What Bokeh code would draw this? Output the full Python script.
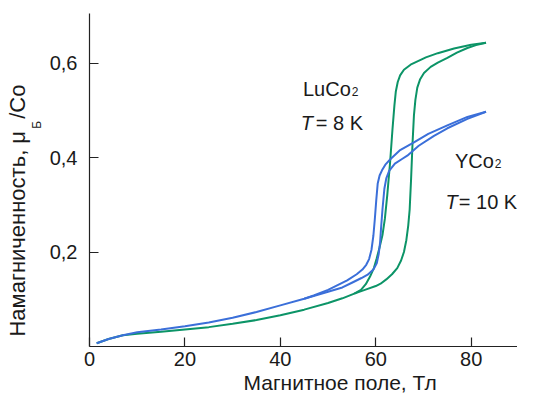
import math
from bokeh.plotting import figure
from bokeh.models import Label, FixedTicker, Range1d, Title
from bokeh.embed import file_html
from bokeh.resources import INLINE

# LuCo2, T = 8 K : increasing-field branch
lu_up_x = [1.5, 4, 7, 10, 15, 20, 25, 30, 35, 40, 45, 50, 53, 55.5, 58, 60, 61, 62.2, 63.4,
           64.5, 65.3, 65.9, 66.4, 66.8, 67.1, 67.4, 67.7, 68.0, 68.3, 68.7, 69.3, 70.1, 71.5,
           73, 75, 77, 79.2, 81, 83.1]
lu_up_y = [0.007, 0.016, 0.024, 0.027, 0.031, 0.036, 0.041, 0.048, 0.056, 0.066, 0.078, 0.092,
           0.102, 0.112, 0.121, 0.128, 0.133, 0.142, 0.153, 0.166, 0.182, 0.200, 0.225, 0.256,
           0.290, 0.355, 0.430, 0.490, 0.522, 0.548, 0.566, 0.579, 0.592, 0.601, 0.611, 0.622,
           0.632, 0.638, 0.643]
# LuCo2 : decreasing-field branch
lu_dn_x = [83.1, 80, 76.4, 73, 70.5, 69.4, 67.5, 65.9, 65.1, 64.6, 64.2, 63.9, 63.5, 63.0,
           62.4, 61.9, 61.4, 60.8, 60.2, 59.6, 58.8, 57.9, 56.9, 55.5]
lu_dn_y = [0.643, 0.639, 0.631, 0.621, 0.612, 0.607, 0.598, 0.586, 0.574, 0.560, 0.540, 0.510,
           0.460, 0.390, 0.320, 0.270, 0.236, 0.210, 0.187, 0.166, 0.148, 0.132, 0.120, 0.112]

# YCo2, T = 10 K : increasing-field branch
y_up_x = [1.5, 4, 7, 10, 15, 20, 25, 30, 35, 40, 45, 50, 53, 55, 57, 58.3, 59.5, 60.2, 60.6,
          60.9, 61.1, 61.4, 61.8, 62.2, 62.8, 64, 65.5, 66.6, 69, 72.2, 75, 79.2, 83.1]
y_up_y = [0.007, 0.016, 0.024, 0.030, 0.036, 0.043, 0.051, 0.061, 0.073, 0.087, 0.101, 0.116,
          0.125, 0.135, 0.145, 0.152, 0.163, 0.176, 0.195, 0.220, 0.250, 0.290, 0.334, 0.356,
          0.372, 0.387, 0.397, 0.404, 0.425, 0.446, 0.462, 0.482, 0.497]
# YCo2 : decreasing-field branch
y_dn_x = [83.1, 79.2, 75, 71, 68, 65, 63.1, 62, 61.3, 60.8, 60.4, 60.1, 59.8, 59.5, 59.1,
          58.6, 58.0, 57.2, 56, 54, 52, 50, 47, 45]
y_dn_y = [0.497, 0.486, 0.468, 0.450, 0.432, 0.415, 0.397, 0.385, 0.373, 0.362, 0.345, 0.310,
          0.270, 0.235, 0.205, 0.185, 0.173, 0.163, 0.153, 0.140, 0.130, 0.120, 0.108, 0.101]

x_ticks = [0, 20, 40, 60, 80]
y_ticks = [0.2, 0.4, 0.6]
y_tick_labels = {0.2: "0,2", 0.4: "0,4", 0.6: "0,6"}

GREEN = "#0c9467"
BLUE = "#3b6fd9"
FONT = "Liberation Sans"
TXT = "#1a1a1a"
NB = "\u00a0"

p = figure(width=517, height=393, output_backend="svg", toolbar_location=None,
           x_range=Range1d(0, 89.7), y_range=Range1d(0, 0.705),
           min_border_left=89, min_border_right=0, min_border_top=13, min_border_bottom=40)
p.outline_line_color = None
p.grid.visible = False
p.background_fill_color = "white"
p.border_fill_color = "white"

p.line(lu_up_x, lu_up_y, line_color=GREEN, line_width=2)
p.line(lu_dn_x, lu_dn_y, line_color=GREEN, line_width=2)
p.line(y_up_x, y_up_y, line_color=BLUE, line_width=2)
p.line(y_dn_x, y_dn_y, line_color=BLUE, line_width=2)

for ax in (p.xaxis[0], p.yaxis[0]):
    ax.major_tick_in = 9
    ax.major_tick_out = 0
    ax.minor_tick_line_color = None
    ax.axis_line_color = "#222222"
    ax.axis_line_width = 1.2
    ax.major_tick_line_color = "#222222"
    ax.major_tick_line_width = 1.2
    ax.major_label_text_font = FONT
    ax.major_label_text_font_size = "20px"
    ax.major_label_text_color = TXT

p.xaxis[0].ticker = FixedTicker(ticks=x_ticks)
p.xaxis[0].major_label_standoff = 5
p.yaxis[0].ticker = FixedTicker(ticks=y_ticks)
p.yaxis[0].major_label_overrides = y_tick_labels
p.yaxis[0].major_label_standoff = 12

# y-axis title (gap left for the subscript, trailing spaces shift it down)
p.yaxis[0].axis_label = "Намагниченность, μ" + NB * 2 + "/Co" + NB * 10
p.yaxis[0].axis_label_text_font = FONT
p.yaxis[0].axis_label_text_font_size = "22px"
p.yaxis[0].axis_label_text_font_style = "normal"
p.yaxis[0].axis_label_text_color = TXT
p.yaxis[0].axis_label_standoff = 17

# x-axis title
p.add_layout(Title(text="Магнитное поле, Тл", align="left", offset=154, standoff=0,
                   text_font=FONT, text_font_size="21px", text_font_style="normal",
                   text_color=TXT), "below")

# subscript of the y-axis title (in a side panel so it is not clipped)
p.add_layout(Label(text="Б", x=-10.96, y=0.461, text_font=FONT, text_font_size="12px",
                   text_color=TXT, text_align="left", text_baseline="alphabetic",
                   angle=math.pi / 2), "above")


def lab(text, x, y, size="20px", align="left", style="normal"):
    p.add_layout(Label(text=text, x=x, y=y, text_font=FONT, text_font_size=size,
                       text_color=TXT, text_align=align, text_baseline="alphabetic",
                       text_font_style=style))


# curve annotations
lab("LuCo", 54.76, 0.5454, align="right")
lab("2", 54.97, 0.5398, size="12px")
lab("T", 44.28, 0.4725, style="italic")
lab("= 8 K", 47.42, 0.4725)
lab("YCo", 84.74, 0.3935, align="right")
lab("2", 84.95, 0.3877, size="12px")
lab("T", 74.61, 0.3063, style="italic")
lab("= 10 K", 77.40, 0.3063)

open("out.html", "w").write(file_html(p, INLINE))
